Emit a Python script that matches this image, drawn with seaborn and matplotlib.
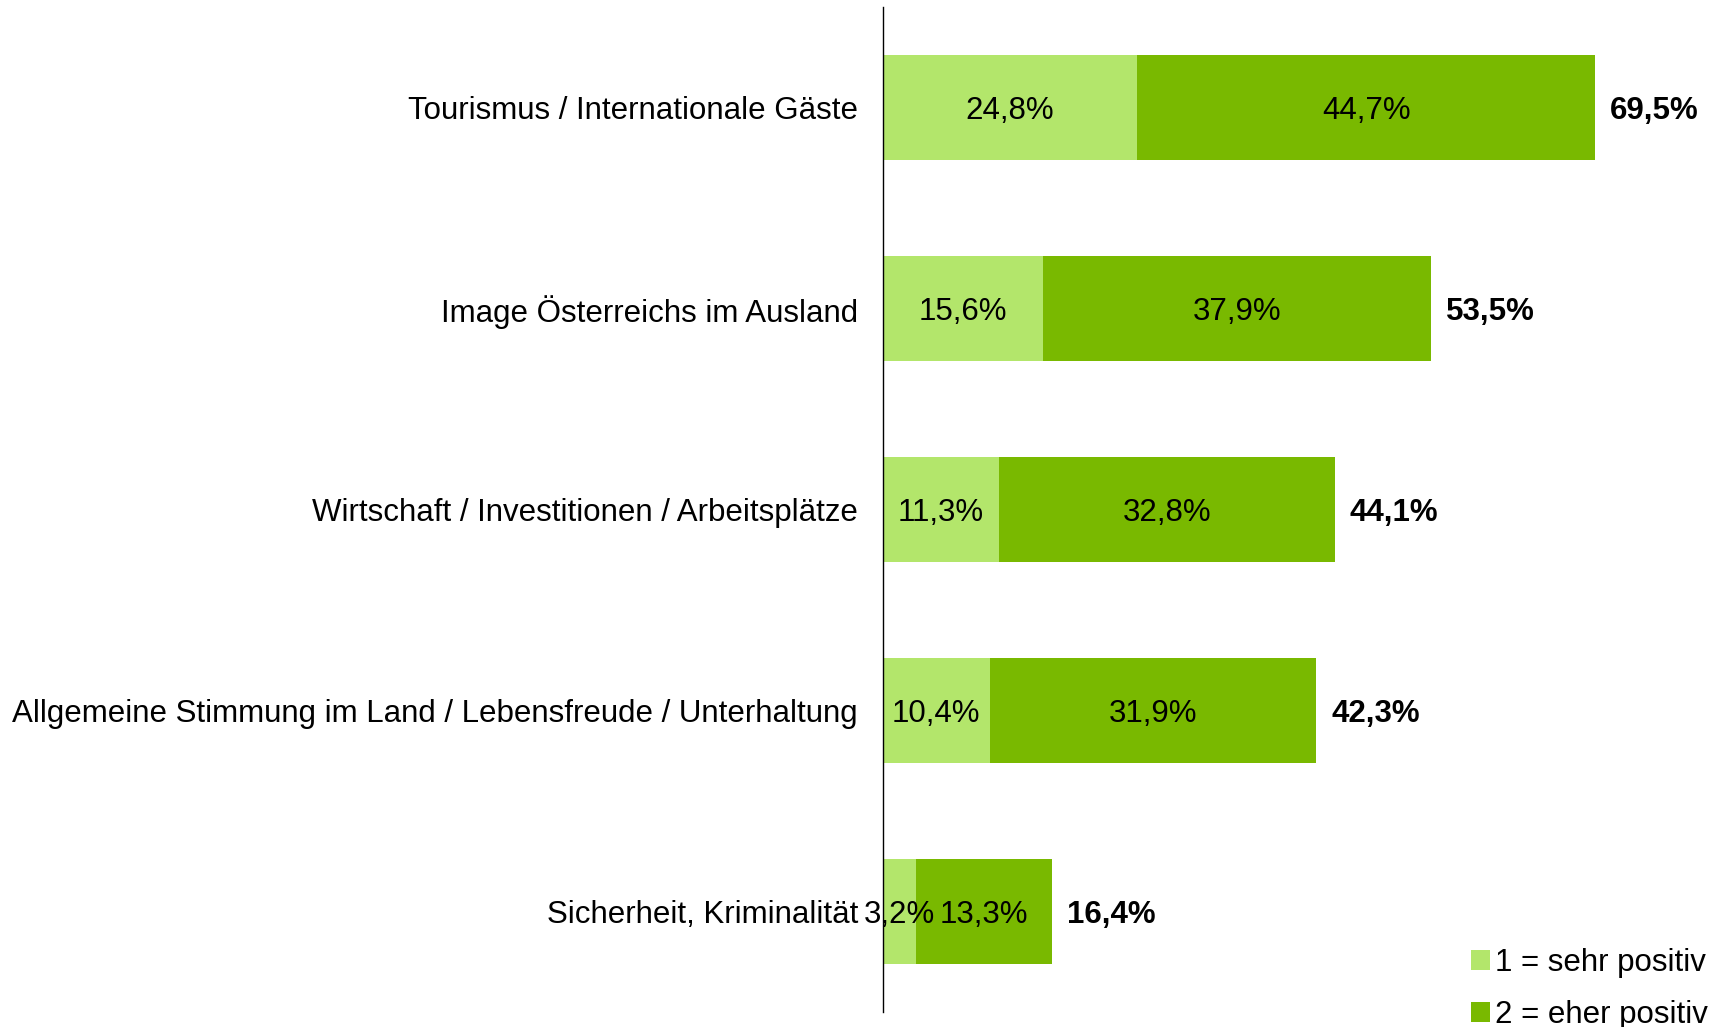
import matplotlib
matplotlib.use("Agg")
import matplotlib.pyplot as plt
import seaborn as sns
import pandas as pd
from matplotlib.patches import Patch

categories = [
    "Tourismus / Internationale Gäste",
    "Image Österreichs im Ausland",
    "Wirtschaft / Investitionen / Arbeitsplätze",
    "Allgemeine Stimmung im Land / Lebensfreude / Unterhaltung",
    "Sicherheit, Kriminalität",
]
sehr_positiv = [24.8, 15.6, 11.3, 10.4, 3.2]
eher_positiv = [44.7, 37.9, 32.8, 31.9, 13.3]
totals = [69.5, 53.5, 44.1, 42.3, 16.4]
series_names = ["1 = sehr positiv", "2 = eher positiv"]

LIGHT = "#B3E66B"
DARK = "#79B900"

sns.set_theme(style="white")
plt.rcParams["font.family"] = ["Liberation Sans", "DejaVu Sans"]
plt.rcParams["text.color"] = "black"
plt.rcParams["ytick.color"] = "black"
plt.rcParams["ytick.labelcolor"] = "black"

df = pd.DataFrame({
    "cat": categories,
    "s1": sehr_positiv,
    "s2": eher_positiv,
    "total": [a + b for a, b in zip(sehr_positiv, eher_positiv)],
})

fig = plt.figure(figsize=(17.16, 10.27), dpi=100)
ax = fig.add_axes([883 / 1716, 1 - 1012 / 1027, 1 - 883 / 1716, (1012 - 7) / 1027])

sns.barplot(data=df, y="cat", x="total", color=DARK, saturation=1, width=0.52,
            orient="h", ax=ax, edgecolor="none", linewidth=0)
sns.barplot(data=df, y="cat", x="s1", color=LIGHT, saturation=1, width=0.52,
            orient="h", ax=ax, edgecolor="none", linewidth=0)

fs = 22.5
for i, (a, b, t) in enumerate(zip(sehr_positiv, eher_positiv, totals)):
    ax.text(a / 2, i, f"{a:.1f}%".replace(".", ","), ha="center", va="center_baseline",
            fontsize=fs, color="black")
    ax.text(a + b / 2, i, f"{b:.1f}%".replace(".", ","), ha="center", va="center_baseline",
            fontsize=fs, color="black")
    ax.text(a + b + 1.45, i, f"{t:.1f}%".replace(".", ","), ha="left", va="center_baseline",
            fontsize=fs, color="black", fontweight="bold")

ax.set_xlim(0, 81.3)
ax.set_ylim(len(categories) - 0.5, -0.5)
ax.set_xlabel("")
ax.set_ylabel("")
ax.set_xticks([])
ax.tick_params(axis="y", length=0, pad=18, labelsize=fs, labelcolor="black")
for s in ["top", "right", "bottom"]:
    ax.spines[s].set_visible(False)
ax.spines["left"].set_color("black")
ax.spines["left"].set_linewidth(1.0)

handles = [Patch(facecolor=LIGHT, edgecolor="none"), Patch(facecolor=DARK, edgecolor="none")]
leg = fig.legend(handles, series_names, loc="lower right", bbox_to_anchor=(1.006, -0.021),
                 frameon=False, fontsize=fs, handlelength=0.6, handleheight=0.6,
                 handletextpad=0.15, labelspacing=0.7, borderaxespad=0.2)
for t in leg.get_texts():
    t.set_color("black")

fig.savefig("out.png", dpi=100)
